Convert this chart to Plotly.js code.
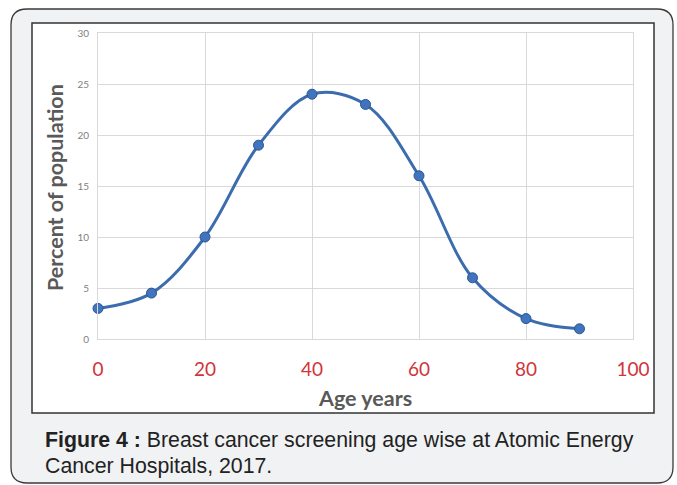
<!DOCTYPE html>
<html>
<head>
<meta charset="utf-8">
<script src="https://cdn.plot.ly/plotly-3.0.1.min.js"></script>
<style>html,body{margin:0;padding:0;background:#fff;}#chart{width:677px;height:485px;}</style>
</head>
<body>
<div id="chart"></div>
<script>
// Data
const ages = [0, 10, 20, 30, 40, 50, 60, 70, 80, 90];
const percent = [3, 4.5, 10, 19, 24, 23, 16, 6, 2, 1];
const xTicks = [0, 20, 40, 60, 80, 100];
const yTicks = [0, 5, 10, 15, 20, 25, 30];
const xTitle = "Age years";
const yTitle = "Percent of population";
const captionBold = "Figure 4 :";
const captionLine1 = " Breast cancer screening age wise at Atomic Energy";
const captionLine2 = "Cancer Hospitals, 2017.";

const W = 677, H = 485;
const M = {l: 98, r: 44, t: 33, b: 146};
const PW = W - M.l - M.r, PH = H - M.t - M.b;
const px = x => (x - M.l) / PW;
const py = y => 1 - (y - M.t) / PH;

function roundRect(x0, y0, x1, y1, r) {
  const P = (x, y) => px(x) + ',' + py(y);
  return 'M' + P(x0 + r, y0) + ' L' + P(x1 - r, y0) + ' Q' + P(x1, y0) + ' ' + P(x1, y0 + r) +
    ' L' + P(x1, y1 - r) + ' Q' + P(x1, y1) + ' ' + P(x1 - r, y1) +
    ' L' + P(x0 + r, y1) + ' Q' + P(x0, y1) + ' ' + P(x0, y1 - r) +
    ' L' + P(x0, y0 + r) + ' Q' + P(x0, y0) + ' ' + P(x0 + r, y0) + ' Z';
}

const trace = {
  x: ages, y: percent, type: 'scatter', mode: 'lines+markers',
  line: {shape: 'spline', smoothing: 1.0, color: '#3b6cae', width: 3},
  marker: {size: 10, color: '#4174be', line: {color: '#2c5592', width: 1}},
  hoverinfo: 'none', cliponaxis: false
};

const layout = {
  width: W, height: H,
  margin: M,
  paper_bgcolor: '#ffffff',
  plot_bgcolor: '#ffffff',
  showlegend: false,
  xaxis: {
    range: [0, 100], tickvals: xTicks, ticktext: xTicks.map(String),
    showgrid: true, gridcolor: '#d9d9d9', gridwidth: 1,
    zeroline: false, showline: true, linecolor: '#d9d9d9', mirror: true,
    ticks: '', ticklabelstandoff: 13,
    tickfont: {family: 'Lato, "Open Sans", sans-serif', size: 19, color: '#d0343a'}
  },
  yaxis: {
    range: [0, 30], tickvals: yTicks, ticktext: yTicks.map(String),
    showgrid: true, gridcolor: '#d9d9d9', gridwidth: 1,
    zeroline: false, showline: true, linecolor: '#d9d9d9', mirror: true,
    ticks: '', ticklabelstandoff: 6,
    tickfont: {family: 'Lato, "Open Sans", sans-serif', size: 10, color: '#808080'}
  },
  shapes: [
    {type: 'path', xref: 'paper', yref: 'paper', layer: 'below',
     path: roundRect(11, 9, 673, 483, 16),
     fillcolor: '#f1f2f4', line: {color: '#3a3a3a', width: 1.3}},
    {type: 'rect', xref: 'paper', yref: 'paper', layer: 'below',
     x0: px(32), x1: px(654), y0: py(413), y1: py(23),
     fillcolor: '#ffffff', line: {color: '#333333', width: 1.5}}
  ],
  annotations: [
    {xref: 'paper', yref: 'paper', x: px(365), y: py(398), xanchor: 'center', yanchor: 'middle',
     text: '<b>' + xTitle + '</b>', showarrow: false,
     font: {family: 'Lato, "Open Sans", sans-serif', size: 21.5, color: '#595959'}},
    {xref: 'paper', yref: 'paper', x: px(55), y: py(188), xanchor: 'center', yanchor: 'middle',
     text: '<b>' + yTitle + '</b>', showarrow: false, textangle: -90,
     font: {family: 'Lato, "Open Sans", sans-serif', size: 21.5, color: '#595959'}},
    {xref: 'paper', yref: 'paper', x: px(43), y: py(440), xanchor: 'left', yanchor: 'middle',
     text: '<b>' + captionBold + '</b>' + captionLine1, showarrow: false, align: 'left',
     font: {family: '"Liberation Sans", Arial, sans-serif', size: 21.3, color: '#222222'}},
    {xref: 'paper', yref: 'paper', x: px(43), y: py(466), xanchor: 'left', yanchor: 'middle',
     text: captionLine2, showarrow: false, align: 'left',
     font: {family: '"Liberation Sans", Arial, sans-serif', size: 21.3, color: '#222222'}}
  ]
};

Plotly.newPlot('chart', [trace], layout, {displayModeBar: false, staticPlot: true});
</script>
</body>
</html>
